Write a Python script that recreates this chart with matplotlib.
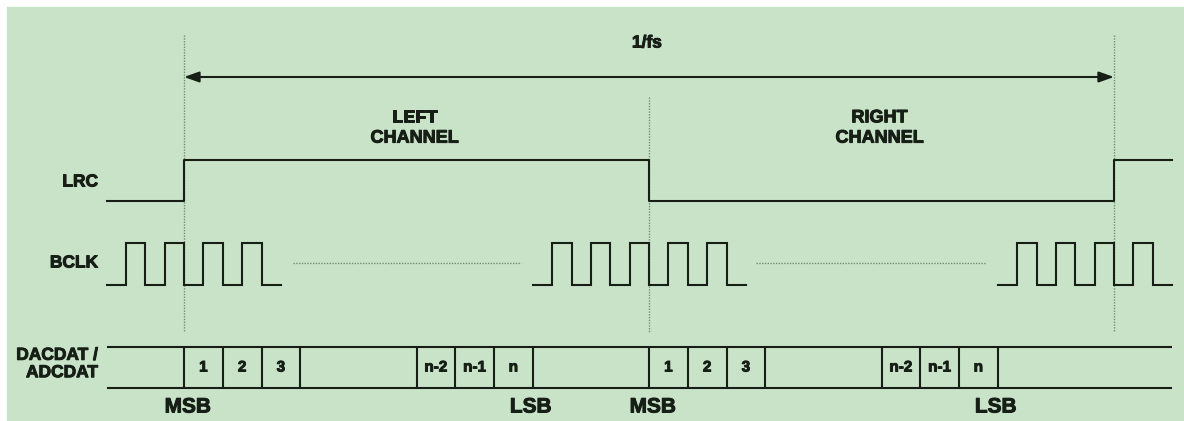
import matplotlib
matplotlib.use("Agg")
import matplotlib.pyplot as plt
from matplotlib.patches import Rectangle
import matplotlib.patheffects as pe

plt.rcParams['font.family'] = ['Liberation Sans', 'DejaVu Sans']

# timing data, in BCLK periods (t=0 is the first LRC rising edge)
lrc_times = [-2, 0, 12, 24, 25.5]
lrc_levels = [0, 1, 0, 1, 1]

bclk_spans = [(-2, 2.5), (9, 14.5), (21, 25.5)]
bclk_rises = [[-1.5, -0.5, 0.5, 1.5],
              [9.5, 10.5, 11.5, 12.5, 13.5],
              [21.5, 22.5, 23.5, 24.5]]
bclk_gaps = [(2.8, 8.7), (14.75, 20.7)]

frame_marks = [0, 12, 24]
word_starts = [0, 12]
slot_edges = [0, 1, 2, 3, 6, 7, 8, 9]
slot_labels = ['1', '2', '3', '', 'n-2', 'n-1', 'n']
channel_names = ['LEFT\nCHANNEL', 'RIGHT\nCHANNEL']
signal_names = ['LRC', 'BCLK', 'DACDAT /\nADCDAT']

# layout (pixel rows)
T = 38.75
X0 = 184
LRC_LO, LRC_HI = 201, 160
CLK_LO, CLK_HI = 285, 243
BUS_TOP, BUS_BOT = 347, 388
ARROW_Y = 77

ink = '#161e16'
dots = '#6f8f6f'
bg = '#c9e3c9'
lw = 1.5
heavy = [pe.withStroke(linewidth=0.7, foreground=ink)]

fig = plt.figure(figsize=(11.84, 4.21), dpi=100)
ax = fig.add_axes([0, 0, 1, 1])
ax.set_xlim(-X0 / T, (1184 - X0) / T)
ax.set_ylim(421, 0)
ax.axis('off')

def px(x):
    return (x - X0) / T

def label(x, y, s, size, **kw):
    ax.text(x, y, s, ha=kw.pop('ha', 'center'), va='center', fontsize=size,
            fontweight='bold', color=ink, path_effects=heavy, **kw)

ax.add_patch(Rectangle((px(7), 7), px(1200) - px(7), 430, color=bg, zorder=0))

# frame markers
ax.vlines(frame_marks[0], 35, 332, colors=dots, linestyles=(0, (1, 1)), lw=1)
ax.vlines(frame_marks[1], 97, 332, colors=dots, linestyles=(0, (1, 1)), lw=1)
ax.vlines(frame_marks[2], 35, 332, colors=dots, linestyles=(0, (1, 1)), lw=1)

# 1/fs arrow
ax.annotate('', xy=(frame_marks[0], ARROW_Y), xytext=(frame_marks[2], ARROW_Y),
            arrowprops=dict(arrowstyle='<|-|>,head_length=0.9,head_width=0.32',
                            mutation_scale=10, lw=lw, color=ink,
                            shrinkA=0, shrinkB=0))
label(px(647), 43, '1/fs', 12.5)

for ws, name in zip(word_starts, channel_names):
    label(ws + 6 - 0.05, 128, name, 13, linespacing=1.25)

# LRC
ly = [LRC_HI if v else LRC_LO for v in lrc_levels]
ax.plot(lrc_times, ly, drawstyle='steps-post', color=ink, lw=lw)

# BCLK
for (s, e), rises in zip(bclk_spans, bclk_rises):
    xs, ys = [s], [CLK_LO]
    for r in rises:
        xs += [r, r, r + 0.5, r + 0.5]
        ys += [CLK_LO, CLK_HI, CLK_HI, CLK_LO]
    xs.append(e)
    ys.append(CLK_LO)
    ax.plot(xs, ys, color=ink, lw=lw, solid_joinstyle='miter')
for a, b in bclk_gaps:
    ax.hlines((CLK_LO + CLK_HI) / 2 - 1, a, b, colors=dots,
              linestyles=(0, (1, 1)), lw=1)

# data bus
ax.hlines([BUS_TOP, BUS_BOT], lrc_times[0], lrc_times[-1], colors=ink, lw=lw)
for ws in word_starts:
    ax.vlines([ws + e for e in slot_edges], BUS_TOP, BUS_BOT, colors=ink, lw=lw)
    for a, b, lab in zip(slot_edges[:-1], slot_edges[1:], slot_labels):
        label(ws + (a + b) / 2, (BUS_TOP + BUS_BOT) / 2, lab, 11)
    label(ws + 0.1, 407, 'MSB', 15)
    label(ws + slot_edges[-1] - 0.05, 407, 'LSB', 15)

# signal names
for name, y in zip(signal_names, [182, 263, 364]):
    label(px(98), y, name, 12.5, ha='right', linespacing=1.2)

fig.savefig('out.png', dpi=100)
